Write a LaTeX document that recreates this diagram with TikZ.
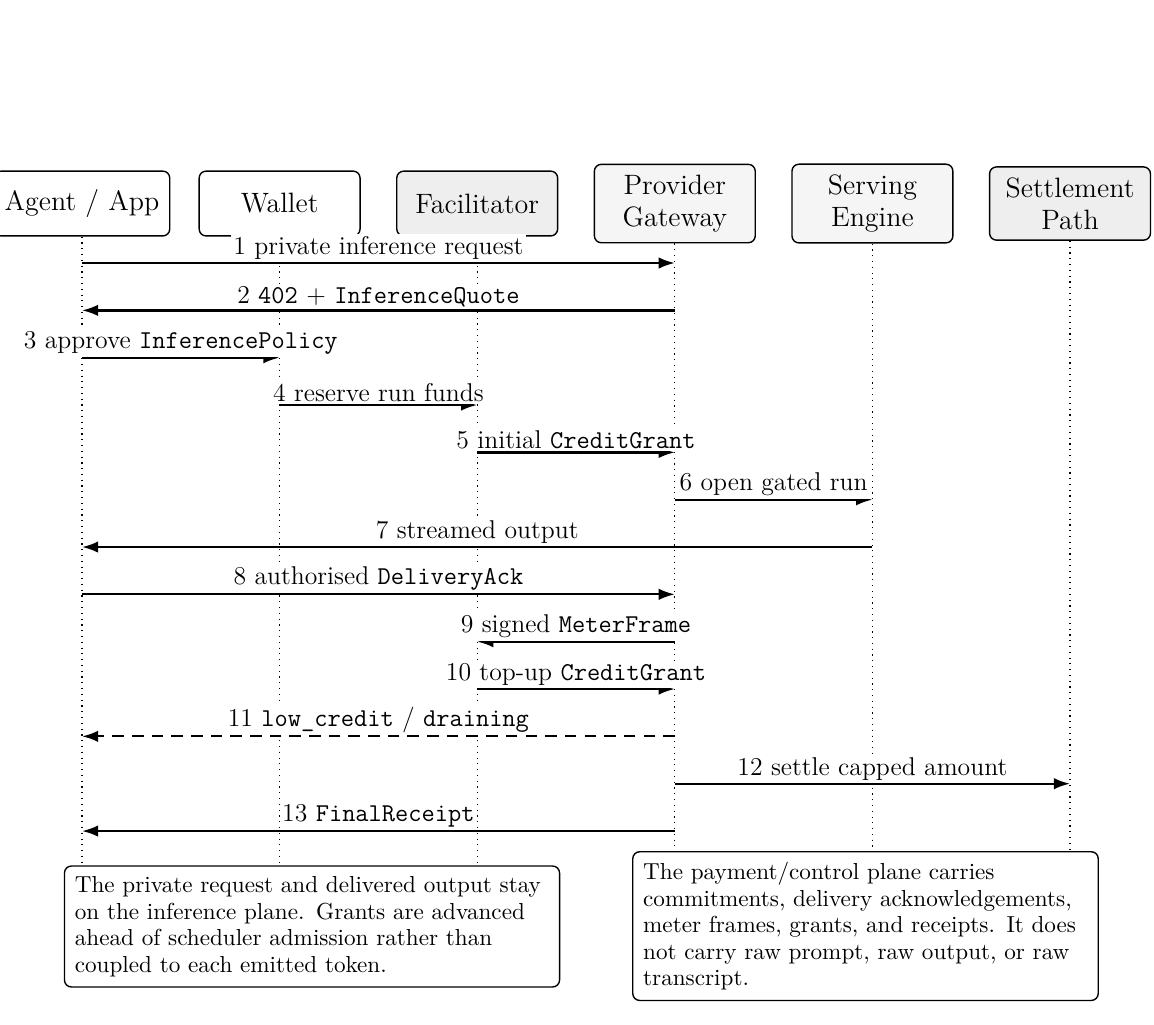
\documentclass[tikz,border=0pt]{standalone}
\usetikzlibrary{arrows.meta}
\definecolor{facfill}{HTML}{EEEEEE}
\definecolor{provfill}{HTML}{F5F5F5}
\hyphenpenalty=10000
\exhyphenpenalty=10000
\tikzset{
  actor/.style={draw, rounded corners=3pt, line width=0.6pt, align=center,
    minimum width=69.5pt, minimum height=28pt, inner sep=4.5pt,
    font=\fontsize{12.1}{14}\selectfont},
  lifeline/.style={dotted, line width=0.5pt},
  msg/.style={line width=1pt, -{Latex[length=7pt,width=5pt]}},
  msgdash/.style={msg, dashed, dash pattern=on 5pt off 3.5pt},
  lbl/.style={midway, above, fill=white, inner sep=1pt, font=\fontsize{11.1}{13.6}\selectfont},
  note/.style={draw, rounded corners=3pt, fill=white, line width=0.6pt, align=left,
    inner sep=4.5pt, font=\fontsize{10}{11.45}\selectfont}
}
\begin{document}
\begin{tikzpicture}
\useasboundingbox (0,0) rectangle (17.52,-15.56);
% actors
\node[actor] (agent) at (1.245,-3.09) {Agent / App};
\node[actor] (wallet) at (4.245,-3.09) {Wallet};
\node[actor, fill=facfill] (fac) at (7.245,-3.09) {Facilitator};
\node[actor, fill=provfill] (prov) at (10.245,-3.09) {Provider\\Gateway};
\node[actor, fill=provfill] (serv) at (13.245,-3.09) {Serving\\Engine};
\node[actor, fill=facfill] (settle) at (16.245,-3.09) {Settlement\\Path};
% lifeline ends
\coordinate (bot) at (0,-13.5);
\foreach \n in {agent,wallet,fac,prov,serv,settle}
  \draw[lifeline] (\n.south) -- (\n.south |- bot);
% message rows
\coordinate (m1) at (0,-3.993);
\coordinate (m2) at (0,-4.712);
\coordinate (m3) at (0,-5.430);
\coordinate (m4) at (0,-6.149);
\coordinate (m5) at (0,-6.868);
\coordinate (m6) at (0,-7.586);
\coordinate (m7) at (0,-8.305);
\coordinate (m8) at (0,-9.023);
\coordinate (m9) at (0,-9.742);
\coordinate (m10) at (0,-10.461);
\coordinate (m11) at (0,-11.179);
\coordinate (m12) at (0,-11.898);
\coordinate (m13) at (0,-12.617);
\draw[msg] (agent |- m1) -- node[lbl] {1 private inference request} (prov |- m1);
\draw[msg] (prov |- m2) -- node[lbl] {2 \texttt{402} + \texttt{InferenceQuote}} (agent |- m2);
\draw[msg] (agent |- m3) -- node[lbl] {3 approve \texttt{InferencePolicy}} (wallet |- m3);
\draw[msg] (wallet |- m4) -- node[lbl] {4 reserve run funds} (fac |- m4);
\draw[msg] (fac |- m5) -- node[lbl] {5 initial \texttt{CreditGrant}} (prov |- m5);
\draw[msg] (prov |- m6) -- node[lbl] {6 open gated run} (serv |- m6);
\draw[msg] (serv |- m7) -- node[lbl] {7 streamed output} (agent |- m7);
\draw[msg] (agent |- m8) -- node[lbl] {8 authorised \texttt{DeliveryAck}} (prov |- m8);
\draw[msg] (prov |- m9) -- node[lbl] {9 signed \texttt{MeterFrame}} (fac |- m9);
\draw[msg] (fac |- m10) -- node[lbl] {10 top-up \texttt{CreditGrant}} (prov |- m10);
\draw[msgdash] (prov |- m11) -- node[lbl] {11 \texttt{low\_credit} / \texttt{draining}} (agent |- m11);
\draw[msg] (prov |- m12) -- node[lbl] {12 settle capped amount} (settle |- m12);
\draw[msg] (prov |- m13) -- node[lbl] {13 \texttt{FinalReceipt}} (agent |- m13);
% notes
\node[note, text width=7.2cm] (note1) at (4.737,-14.066) {The private request and delivered output stay on the inference plane. Grants are advanced ahead of scheduler admission rather than coupled to each emitted token.};
\node[note, text width=6.75cm] (note2) at (13.14,-14.06) {The payment/control plane carries commitments, delivery acknowledgements, meter frames, grants, and receipts. It does not carry raw prompt, raw output, or raw transcript.};
\end{tikzpicture}
\end{document}
